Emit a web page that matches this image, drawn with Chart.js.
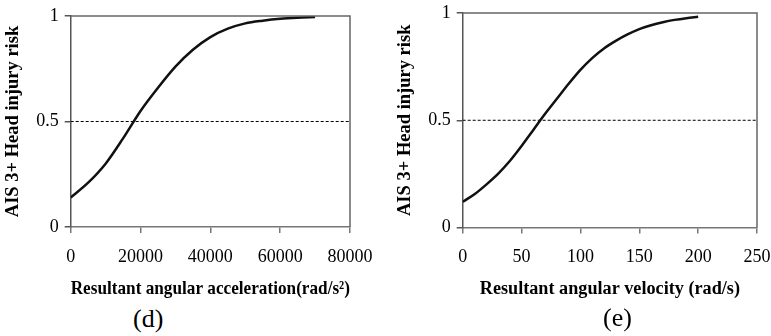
<!DOCTYPE html>
<html>
<head>
<meta charset="utf-8">
<script src="https://cdn.jsdelivr.net/npm/chart.js@4.4.1/dist/chart.umd.min.js"></script>
<style>
  html, body { margin: 0; padding: 0; background: #fff; }
  body { width: 771px; height: 336px; position: relative; overflow: hidden; }
  .panel { position: absolute; top: 0; height: 304px; }
  #panelD { left: 0; width: 385px; }
  #panelE { left: 385px; width: 386px; }
  .tag { position: absolute; font-family: 'Liberation Serif', serif; font-size: 26px; color: #000; line-height: 1; }
</style>
</head>
<body>
<div class="panel" id="panelD"><canvas id="chartD"></canvas></div>
<div class="panel" id="panelE"><canvas id="chartE"></canvas></div>
<div class="tag" style="left:133px; top:306px;">(d)</div>
<div class="tag" style="left:603px; top:305px;">(e)</div>
<script>
// (d) risk vs resultant angular acceleration
const accelX = [0, 5000, 10000, 15000, 20000, 25000, 30000, 35000, 40000, 45000, 50000, 55000, 60000, 65000, 70000];
const accelRisk = [0.14, 0.21, 0.30, 0.42, 0.55, 0.66, 0.76, 0.84, 0.90, 0.94, 0.965, 0.978, 0.987, 0.992, 0.995];
const accelTicks = [0, 80000, 20000];   // min, max, step

// (e) risk vs resultant angular velocity
const velX = [0, 10, 20, 30, 40, 50, 60, 70, 80, 90, 100, 110, 120, 130, 140, 150, 160, 170, 180, 190, 200];
const velRisk = [0.12, 0.155, 0.20, 0.25, 0.31, 0.38, 0.455, 0.53, 0.60, 0.67, 0.735, 0.79, 0.835, 0.87, 0.90, 0.925, 0.943, 0.957, 0.968, 0.976, 0.982];
const velTicks = [0, 250, 50];

const riskTicks = [0, 1, 0.5];
const threshold = 0.5;

const yTitle = 'AIS 3+ Head injury risk';
const xTitleD = 'Resultant angular acceleration(rad/s\u00B2)';
const xTitleE = 'Resultant angular velocity (rad/s)';

const serif = 'Liberation Serif';

// top and right frame lines of the plot box
const frameBox = {
    id: 'frameBox',
    afterDatasetsDraw(chart) {
        const a = chart.chartArea;
        const c = chart.ctx;
        c.save();
        c.strokeStyle = '#666';
        c.lineWidth = 1.5;
        c.beginPath();
        c.moveTo(a.left, a.top);
        c.lineTo(a.right, a.top);
        c.lineTo(a.right, a.bottom);
        c.stroke();
        c.restore();
    }
};

// let the layout padding alone decide the plot box, labels may overhang it
function noOverhang(scale) {
    scale.paddingLeft = 0;
    scale.paddingRight = 0;
    scale.paddingTop = 0;
    scale.paddingBottom = 0;
}

function riskChart(id, xs, ys, xt, xTitle, xTitleSize, pad) {
    const pts = xs.map((x, i) => ({ x: x, y: ys[i] }));
    const ctx = document.getElementById(id).getContext('2d');
    return new Chart(ctx, {
        type: 'line',
        data: {
            datasets: [{
                data: pts,
                borderColor: '#111',
                borderWidth: 2.5,
                pointRadius: 0,
                cubicInterpolationMode: 'monotone',
                fill: false
            }, {
                data: [{ x: xt[0], y: threshold }, { x: xt[1], y: threshold }],
                borderColor: '#000',
                borderWidth: 1,
                borderDash: [3, 2],
                pointRadius: 0,
                fill: false
            }]
        },
        options: {
            responsive: true,
            maintainAspectRatio: false,
            animation: false,
            layout: { padding: pad },
            plugins: { legend: { display: false }, tooltip: { enabled: false } },
            scales: {
                x: {
                    type: 'linear',
                    min: xt[0], max: xt[1],
                    afterFit: noOverhang,
                    border: { color: '#777', width: 1.5 },
                    grid: { drawOnChartArea: false, drawTicks: true, tickLength: 6, color: '#777', lineWidth: 1.5 },
                    ticks: {
                        stepSize: xt[2],
                        padding: 13,
                        color: '#000',
                        font: { family: serif, size: 18 },
                        maxRotation: 0,
                        callback: v => String(v)
                    },
                    title: {
                        display: true,
                        text: xTitle,
                        color: '#000',
                        font: { family: serif, size: xTitleSize, weight: 'bold' },
                        padding: { top: -3, bottom: 0 }
                    }
                },
                y: {
                    min: riskTicks[0], max: riskTicks[1],
                    afterFit: noOverhang,
                    border: { color: '#555', width: 1.5 },
                    grid: { drawOnChartArea: false, drawTicks: true, tickLength: 6, color: '#555', lineWidth: 1.5 },
                    ticks: {
                        stepSize: riskTicks[2],
                        padding: 6,
                        color: '#000',
                        font: { family: serif, size: 18 },
                        callback: v => String(v)
                    },
                    title: {
                        display: true,
                        text: yTitle,
                        color: '#000',
                        font: { family: serif, size: 18.5, weight: 'bold' },
                        padding: { top: 0, bottom: 6 }
                    }
                }
            }
        },
        plugins: [frameBox]
    });
}

riskChart('chartD', accelX, accelRisk, accelTicks, xTitleD, 19.5, { left: 2, right: 35, top: 16, bottom: 3 });
riskChart('chartE', velX, velRisk, velTicks, xTitleE, 18.2, { left: 9, right: 14, top: 13, bottom: 4 });
</script>
</body>
</html>
